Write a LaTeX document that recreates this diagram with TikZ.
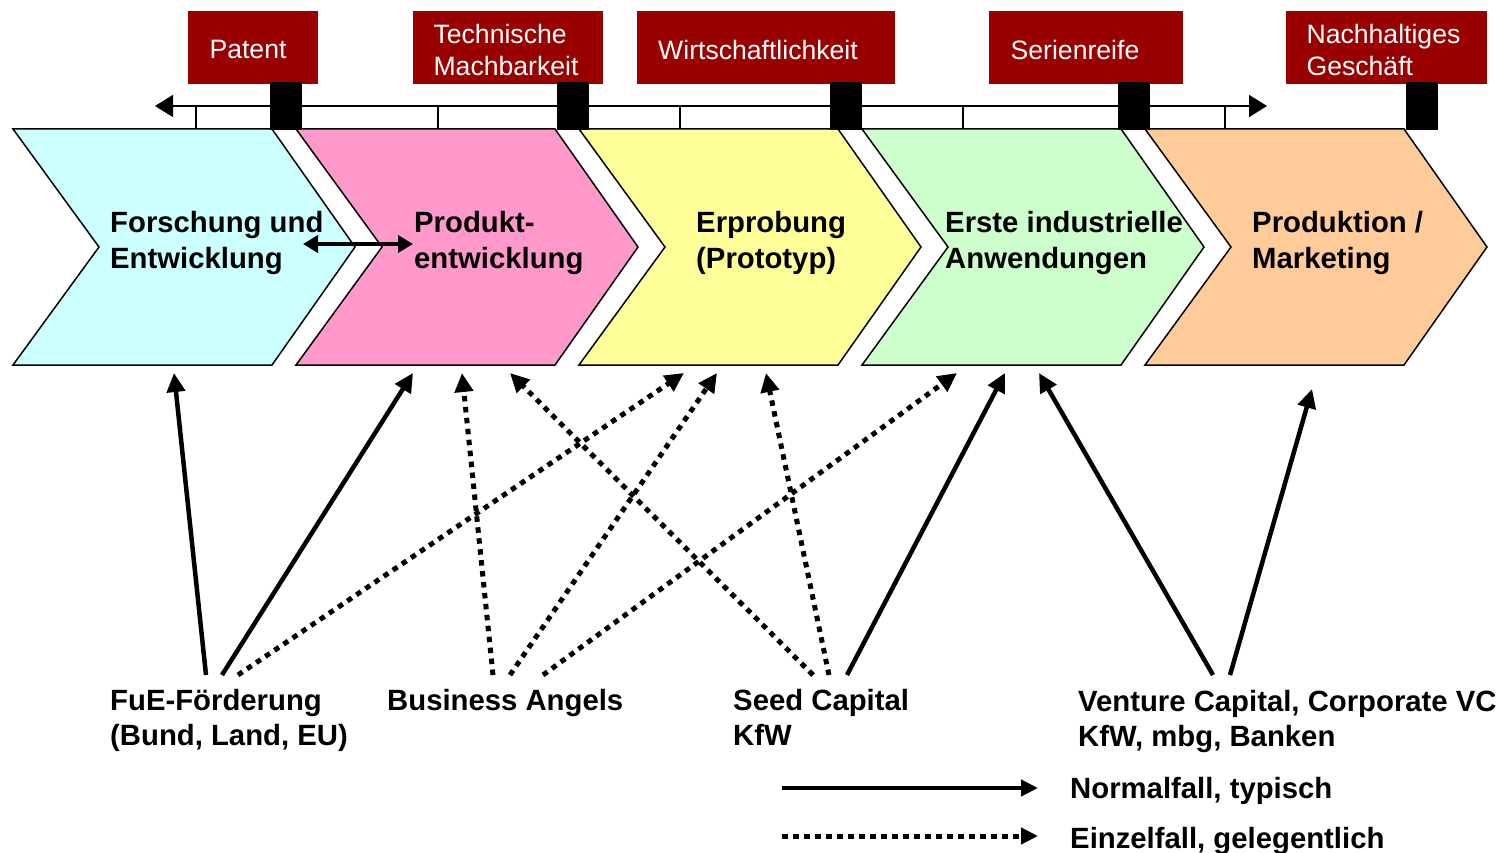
\documentclass[tikz,border=0pt]{standalone}
\usepackage{fontspec}
\setmainfont{Liberation Sans}
\usetikzlibrary{arrows.meta}
\definecolor{msred}{HTML}{990000}
\definecolor{cCyan}{HTML}{CCFFFF}
\definecolor{cPink}{HTML}{FF99CC}
\definecolor{cYellow}{HTML}{FFFF99}
\definecolor{cGreen}{HTML}{CCFFCC}
\definecolor{cOrange}{HTML}{FFCC99}
\begin{document}
\begin{tikzpicture}[x=1pt,y=-1pt,
  msbox/.style={fill=msred, inner sep=0pt, minimum height=73pt},
  mstext/.style={text=white, font=\fontsize{26.6}{32}\selectfont, align=left, inner sep=0pt},
  marker/.style={fill=black, inner sep=0pt, minimum width=32pt, minimum height=48pt},
  phase/.style={draw=black, line width=1.5pt, line join=miter},
  phasetext/.style={font=\bfseries\fontsize{29.3}{36}\selectfont, align=left, anchor=west, inner sep=0pt},
  srctext/.style={font=\bfseries\fontsize{29.3}{35}\selectfont, align=left, anchor=west, inner sep=0pt},
  typical/.style={line width=4.5pt, -{Triangle[length=19pt,width=18pt]}},
  occasional/.style={line width=5pt, dash pattern=on 5.5pt off 5.5pt, -{Triangle[length=19pt,width=18pt]}},
  tick/.style={line width=1.5pt},
]
\useasboundingbox (0,0) rectangle (1502,853);

% phases (chevrons)
\foreach \i/\c in {0/cCyan,1/cPink,2/cYellow,3/cGreen,4/cOrange}{
  \pgfmathsetmacro\L{13+283*\i}
  \path[phase,fill=\c] (\L,129) -- ++(259,0) -- ++(83,118) -- ++(-83,118) -- ++(-259,0) -- ++(86,-118) -- cycle;
}

% timeline
\coordinate (tlL) at (155,106);
\coordinate (tlR) at (1267,106);
\draw[line width=1.5pt, {Triangle[length=18pt,width=22pt]}-{Triangle[length=18pt,width=22pt]}] (tlL) -- (tlR);
\foreach \x in {196,438,680,963,1225}{
  \draw[tick] (\x,106) -- (\x,129);
}

% milestones
\node[msbox, minimum width=130pt] (ms1) at (253,47.5) {};
\node[msbox, minimum width=190pt] (ms2) at (508,47.5) {};
\node[msbox, minimum width=258pt] (ms3) at (766,47.5) {};
\node[msbox, minimum width=194pt] (ms4) at (1086,47.5) {};
\node[msbox, minimum width=201pt] (ms5) at (1386.5,47.5) {};
\node[mstext] (mt1) at ([xshift=-5pt,yshift=-2pt]ms1.center) {Patent};
\node[mstext] (mt2) at ([xshift=-2pt,yshift=-2pt]ms2.center) {Technische\\Machbarkeit};
\node[mstext] (mt3) at ([xshift=-8pt,yshift=-2pt]ms3.center) {Wirtschaftlichkeit};
\node[mstext] (mt4) at ([xshift=-11pt,yshift=-2pt]ms4.center) {Serienreife};
\node[mstext] (mt5) at ([xshift=-3pt,yshift=-2pt]ms5.center) {Nachhaltiges\\Geschäft};

\node[marker] (mk1) at (286,106) {};
\node[marker] (mk2) at (573,106) {};
\node[marker] (mk3) at (846,106) {};
\node[marker] (mk4) at (1134,106) {};
\node[marker] (mk5) at (1422,106) {};

% phase labels
\node[phasetext] (p1) at (110,243) {Forschung und\\Entwicklung};
\node[phasetext] (p2) at (414,243) {Produkt-\\entwicklung};
\node[phasetext] (p3) at (696,243) {Erprobung\\(Prototyp)};
\node[phasetext] (p4) at (945,243) {Erste industrielle\\Anwendungen};
\node[phasetext] (p5) at (1252,243) {Produktion /\\Marketing};

\coordinate (dL) at (303,244);
\coordinate (dR) at (413,244);
\draw[line width=4.5pt, {Triangle[length=15pt,width=17pt]}-{Triangle[length=15pt,width=17pt]}] (dL) -- (dR);

% sources
\node[srctext] (fue) at (110,720) {FuE-Förderung\\(Bund, Land, EU)};
\node[srctext] (ba) at (387,703) {Business Angels};
\node[srctext] (seed) at (733,717) {Seed Capital\\KfW};
\node[srctext] (vc) at (1078,721) {Venture Capital, Corporate VC\\KfW, mbg, Banken};

% arrow ends
\coordinate (fueA) at (206,675);
\coordinate (fueB) at (222,675);
\coordinate (fueC) at (238,675);
\coordinate (baA) at (493,675);
\coordinate (baB) at (510,675);
\coordinate (baC) at (543,675);
\coordinate (seedA) at (813,675);
\coordinate (seedB) at (829,675);
\coordinate (seedC) at (847,675);
\coordinate (vcA) at (1213,675);
\coordinate (vcB) at (1230,675);

\coordinate (ph1a) at (174,373);
\coordinate (ph2a) at (413,373);
\coordinate (ph2b) at (462,373);
\coordinate (ph2c) at (510,373);
\coordinate (ph3a) at (684,373);
\coordinate (ph3b) at (717,373);
\coordinate (ph3c) at (766,373);
\coordinate (ph4a) at (957,373);
\coordinate (ph4b) at (1005,373);
\coordinate (ph4c) at (1039,373);
\coordinate (ph5a) at (1312,389);

\draw[typical] (fueA) -- (ph1a);
\draw[typical] (fueB) -- (ph2a);
\draw[occasional] (fueC) -- (ph3a);
\draw[occasional] (baA) -- (ph2b);
\draw[occasional] (baB) -- (ph3b);
\draw[occasional] (baC) -- (ph4a);
\draw[occasional] (seedA) -- (ph2c);
\draw[occasional] (seedB) -- (ph3c);
\draw[typical] (seedC) -- (ph4b);
\draw[typical] (vcA) -- (ph4c);
\draw[typical] (vcB) -- (ph5a);

% legend
\coordinate (lgA) at (782,788);
\coordinate (lgB) at (1038,788);
\coordinate (lgC) at (782,836);
\coordinate (lgD) at (1038,836);
\draw[line width=4.5pt, -{Triangle[length=17pt,width=16pt]}] (lgA) -- (lgB);
\draw[line width=5pt, dash pattern=on 5.5pt off 5.5pt, -{Triangle[length=17pt,width=16pt]}] (lgC) -- (lgD);
\node[srctext] (lg1) at (1070,791) {Normalfall, typisch};
\node[srctext] (lg2) at (1070,841) {Einzelfall, gelegentlich};
\end{tikzpicture}
\end{document}
